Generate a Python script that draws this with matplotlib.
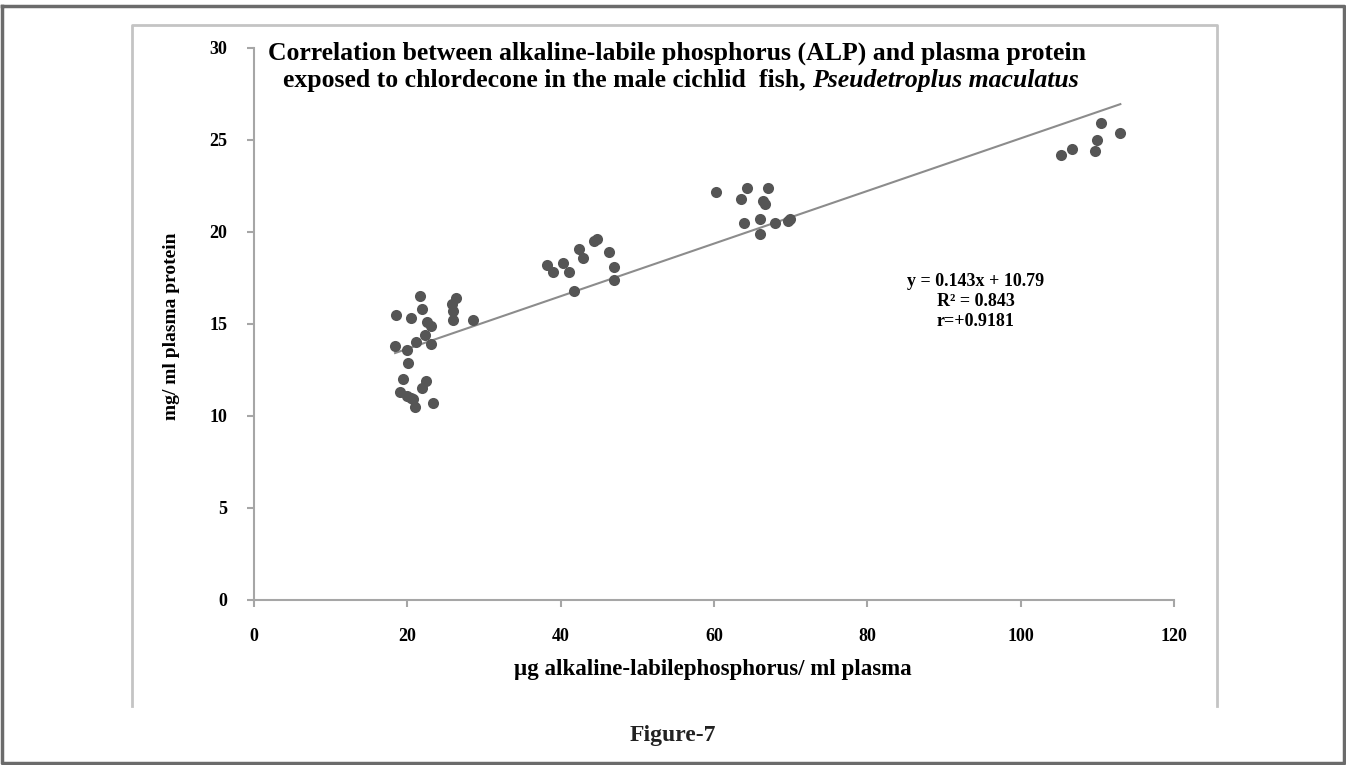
import matplotlib
matplotlib.use("Agg")
import matplotlib.pyplot as plt
import numpy as np
from matplotlib.lines import Line2D

# ALP (x) vs plasma protein (y)
alp = [21.6, 18.5, 20.5, 21.9, 22.6, 23.1, 22.3, 21.1, 18.4, 19.9, 23.1, 20.1, 19.4,
       22.4, 21.9, 19.0, 19.9, 20.8, 21.0, 23.4, 20.5, 26.3, 25.8, 25.9, 25.9, 28.6,
       38.2, 39.0, 40.3, 41.1, 42.4, 42.9, 44.3, 44.8, 41.7, 46.3, 46.9, 46.9,
       60.3, 64.3, 63.5, 67.1, 66.4, 66.6, 63.9, 66.0, 66.0, 68.0, 69.6, 69.9,
       105.3, 106.7, 110.5, 110.0, 109.7, 113.0]
protein = [16.5, 15.5, 15.3, 15.8, 15.1, 14.9, 14.4, 14.0, 13.8, 13.6, 13.9, 12.9, 12.0,
           11.9, 11.5, 11.3, 11.1, 10.9, 10.5, 10.7, 11.0, 16.4, 16.1, 15.7, 15.2, 15.2,
           18.2, 17.8, 18.3, 17.8, 19.1, 18.6, 19.5, 19.6, 16.8, 18.9, 18.1, 17.4,
           22.2, 22.4, 21.8, 22.4, 21.7, 21.5, 20.5, 20.7, 19.9, 20.5, 20.6, 20.7,
           24.2, 24.5, 25.9, 25.0, 24.4, 25.4]

slope, intercept = 0.143, 10.79
x_ticks = [0, 20, 40, 60, 80, 100, 120]
y_ticks = [0, 5, 10, 15, 20, 25, 30]

serif = "Liberation Serif"
axis_grey = "#a6a6a6"

fig = plt.figure(figsize=(13.46, 7.65), dpi=100)
W, H = 1346, 765

# outer border and inner chart frame
fig.add_artist(Line2D([2 / W, 1 - 2 / W, 1 - 2 / W, 2 / W, 2 / W],
                      [1 - 6 / H, 1 - 6 / H, 2 / H, 2 / H, 1 - 6 / H],
                      color="#6b6b6b", lw=2.5))
fig.add_artist(Line2D([132 / W, 132 / W, 1217 / W, 1217 / W],
                      [1 - 706 / H, 1 - 25 / H, 1 - 25 / H, 1 - 706 / H],
                      color="#c4c4c4", lw=2))

ax = fig.add_axes([254 / W, 1 - 600 / H, 920 / W, 552 / H])
ax.scatter(alp, protein, s=64, color="#555555", zorder=3, linewidths=0)

xs = np.array([min(alp), max(alp)])
ax.plot(xs, slope * xs + intercept, color="#8c8c8c", lw=1.5, zorder=2)

ax.set_xlim(0, 120)
ax.set_ylim(0, 30)
ax.set_xticks(x_ticks)
ax.set_yticks(y_ticks)
ax.set_xticklabels([str(t) for t in x_ticks], fontfamily=serif, fontweight="bold", fontsize=13)
ax.set_yticklabels([str(t) for t in y_ticks], fontfamily=serif, fontweight="bold", fontsize=13)
for side in ("top", "right"):
    ax.spines[side].set_visible(False)
for side in ("left", "bottom"):
    ax.spines[side].set_color(axis_grey)
    ax.spines[side].set_linewidth(1.5)
ax.tick_params(direction="out", length=5, width=1.5, color=axis_grey)
ax.tick_params(axis="x", pad=15)
ax.tick_params(axis="y", pad=14)

# axis titles
fig.text(713 / W, 1 - 670 / H, "µg alkaline-labilephosphorus/ ml plasma", fontfamily=serif,
         fontweight="bold", fontsize=16.5, ha="center", va="center")
fig.text(172 / W, 1 - 326 / H, "mg/ ml plasma protein", fontfamily=serif, fontweight="bold",
         fontsize=14, rotation=90, ha="center", va="center")

# equation box
eq_x = 976 / W
for i, txt in enumerate(["y = 0.143x + 10.79", "R² = 0.843", "r=+0.9181"]):
    fig.text(eq_x, 1 - (282 + 19.5 * i) / H, txt, fontfamily=serif, fontweight="bold",
             fontsize=13, ha="center", va="center")

# title (two lines, second one partly italic)
cx = 677 / W
fig.text(cx, 1 - 53 / H, "Correlation between alkaline-labile phosphorus (ALP) and plasma protein",
         fontfamily=serif, fontweight="bold", fontsize=18.5, ha="center", va="center")
t1 = fig.text(0, 1 - 80 / H, "exposed to chlordecone in the male cichlid  fish, ",
              fontfamily=serif, fontweight="bold", fontsize=18.5, ha="left", va="center")
t2 = fig.text(0, 1 - 80 / H, "Pseudetroplus maculatus", fontfamily=serif,
              fontweight="bold", fontstyle="italic", fontsize=18.5, ha="left", va="center")
fig.canvas.draw()
r = fig.canvas.get_renderer()
w1 = t1.get_window_extent(r).width / W
w2 = t2.get_window_extent(r).width / W
t1.set_x(cx + 4 / W - (w1 + w2) / 2)
t2.set_x(cx + 4 / W - (w1 + w2) / 2 + w1)

fig.text(673 / W, 1 - 735 / H, "Figure-7", fontfamily=serif, fontweight="bold",
         fontsize=17, ha="center", va="center", color="#222222")

fig.savefig("out.png", dpi=100)
